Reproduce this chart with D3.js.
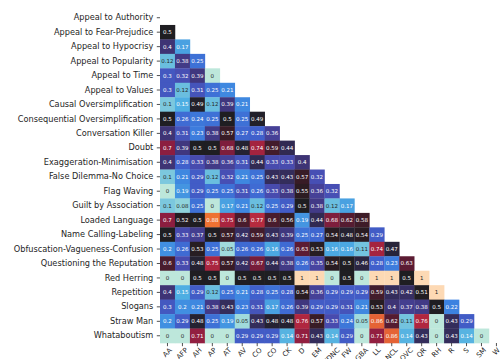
<!DOCTYPE html>
<html>
<head>
<meta charset="utf-8">
<script src="https://cdn.jsdelivr.net/npm/d3@7"></script>
<style>
  html, body { margin: 0; padding: 0; background: #fff; }
  svg { display: block; font-family: "DejaVu Sans", sans-serif; }
</style>
</head>
<body>
<svg id="chart" width="500" height="359"></svg>
<script>
// Technique names (rows) and their abbreviations (columns)
const rowLabels = [
  "Appeal to Authority", "Appeal to Fear-Prejudice", "Appeal to Hypocrisy",
  "Appeal to Popularity", "Appeal to Time", "Appeal to Values",
  "Causal Oversimplification", "Consequential Oversimplification",
  "Conversation Killer", "Doubt", "Exaggeration-Minimisation",
  "False Dilemma-No Choice", "Flag Waving", "Guilt by Association",
  "Loaded Language", "Name Calling-Labeling", "Obfuscation-Vagueness-Confusion",
  "Questioning the Reputation", "Red Herring", "Repetition", "Slogans",
  "Straw Man", "Whataboutism"
];
const colLabels = ["AA", "AFP", "AH", "AP", "AT", "AV", "CO", "CO", "CK", "D", "EM",
  "FDNC", "FW", "GBA", "LL", "NCL", "OVC", "QR", "RH", "R", "S", "SM", "W"];

// Lower-triangle co-occurrence scores, one row per technique
const values = [
  [],
  [0.5],
  [0.4, 0.17],
  [0.12, 0.38, 0.25],
  [0.3, 0.32, 0.39, 0],
  [0.3, 0.12, 0.31, 0.25, 0.21],
  [0.1, 0.15, 0.49, 0.12, 0.39, 0.21],
  [0.5, 0.26, 0.24, 0.25, 0.5, 0.25, 0.49],
  [0.4, 0.31, 0.23, 0.38, 0.57, 0.27, 0.28, 0.36],
  [0.7, 0.39, 0.5, 0.5, 0.68, 0.48, 0.74, 0.59, 0.44],
  [0.4, 0.28, 0.33, 0.38, 0.36, 0.31, 0.44, 0.33, 0.33, 0.4],
  [0.1, 0.21, 0.29, 0.12, 0.32, 0.21, 0.25, 0.43, 0.43, 0.57, 0.32],
  [0, 0.19, 0.29, 0.25, 0.25, 0.31, 0.26, 0.33, 0.38, 0.55, 0.36, 0.32],
  [0.1, 0.08, 0.25, 0, 0.17, 0.21, 0.12, 0.25, 0.29, 0.5, 0.38, 0.12, 0.17],
  [0.7, 0.52, 0.5, 0.88, 0.75, 0.6, 0.77, 0.6, 0.56, 0.19, 0.44, 0.68, 0.62, 0.58],
  [0.5, 0.33, 0.37, 0.5, 0.57, 0.42, 0.59, 0.43, 0.39, 0.25, 0.27, 0.54, 0.48, 0.54, 0.29],
  [0.2, 0.26, 0.53, 0.25, 0.05, 0.26, 0.26, 0.16, 0.26, 0.63, 0.53, 0.16, 0.16, 0.11, 0.74, 0.47],
  [0.6, 0.33, 0.48, 0.75, 0.57, 0.42, 0.67, 0.44, 0.38, 0.26, 0.35, 0.54, 0.5, 0.46, 0.28, 0.23, 0.63],
  [0, 0, 0.5, 0.5, 0, 0.5, 0.5, 0.5, 0.5, 1, 1, 0, 0.5, 0, 1, 1, 0.5, 1],
  [0.4, 0.15, 0.29, 0.12, 0.25, 0.21, 0.28, 0.25, 0.28, 0.54, 0.36, 0.29, 0.29, 0.29, 0.59, 0.43, 0.42, 0.51, 1],
  [0.3, 0.2, 0.21, 0.38, 0.43, 0.23, 0.31, 0.17, 0.26, 0.39, 0.29, 0.29, 0.31, 0.21, 0.53, 0.4, 0.37, 0.38, 0.5, 0.22],
  [0.2, 0.29, 0.48, 0.25, 0.19, 0.05, 0.43, 0.48, 0.48, 0.76, 0.57, 0.33, 0.24, 0.05, 0.86, 0.62, 0.11, 0.76, 0, 0.43, 0.29],
  [0, 0, 0.71, 0, 0, 0.29, 0.29, 0.29, 0.14, 0.71, 0.43, 0.14, 0.29, 0, 0.71, 0.86, 0.14, 0.43, 0, 0.43, 0.14, 0]
];

// Diverging "ice–fire" palette stops
const paletteStops = [0, 0.08, 0.15, 0.22, 0.28, 0.34, 0.40, 0.46, 0.50, 0.55, 0.62, 0.70, 0.76, 0.82, 0.88, 0.94, 1];
const paletteColors = ["#bde7db", "#8fd3dc", "#4eaee2", "#3c82e0", "#4060cc", "#4a47a8",
  "#3e3475", "#2a2540", "#1f1e22", "#2c1c22", "#551c31", "#8c1e40", "#b0263f",
  "#d3443a", "#ee7232", "#f6a765", "#fdd9b4"];

const svg = d3.select("#chart");
const ink = "#262626";

const x = d3.scaleBand().domain(d3.range(colLabels.length)).range([160, 503.9]);
const y = d3.scaleBand().domain(d3.range(rowLabels.length)).range([10.5, 343]);
const color = d3.scaleLinear().domain(paletteStops).range(paletteColors)
  .interpolate(d3.interpolateRgb).clamp(true);

// Flatten the triangle into cells
const cells = [];
values.forEach((row, i) => row.forEach((v, j) => cells.push({ i, j, v })));

// Pick dark or white annotation text from the cell's relative luminance
function luminance(c) {
  const rgb = d3.rgb(c);
  const lin = [rgb.r, rgb.g, rgb.b].map(u => {
    u /= 255;
    return u <= 0.03928 ? u / 12.92 : Math.pow((u + 0.055) / 1.055, 2.4);
  });
  return 0.2126 * lin[0] + 0.7152 * lin[1] + 0.0722 * lin[2];
}

const g = svg.append("g");
g.selectAll("rect.cell").data(cells).join("rect")
  .attr("class", "cell")
  .attr("x", d => x(d.j))
  .attr("y", d => y(d.i))
  .attr("width", x.bandwidth() + 0.3)
  .attr("height", y.bandwidth() + 0.3)
  .attr("fill", d => color(d.v));

g.selectAll("text.val").data(cells).join("text")
  .attr("class", "val")
  .attr("x", d => x(d.j) + x.bandwidth() / 2)
  .attr("y", d => y(d.i) + y.bandwidth() / 2)
  .attr("text-anchor", "middle")
  .attr("dominant-baseline", "central")
  .attr("font-size", 5.5)
  .attr("fill", d => luminance(color(d.v)) > 0.408 ? ink : "#ffffff")
  .text(d => d3.format("~g")(d.v));

// Row axis
const yAxis = svg.append("g")
  .attr("transform", "translate(160,0)")
  .call(d3.axisLeft(y).tickFormat(i => rowLabels[i]).tickSize(3.2).tickPadding(3.5));
yAxis.select(".domain").remove();
yAxis.selectAll(".tick line").attr("stroke", ink).attr("stroke-width", 0.8);
yAxis.selectAll(".tick text").attr("fill", ink).attr("font-size", 8.2)
  .attr("font-family", "DejaVu Sans, sans-serif");

// Column axis with labels turned 45°
const xFont = 7.0;
const xAxis = svg.append("g")
  .attr("transform", "translate(0,343)")
  .call(d3.axisBottom(x).tickFormat(i => colLabels[i]).tickSize(3.2));
xAxis.select(".domain").remove();
xAxis.selectAll(".tick line").attr("stroke", ink).attr("stroke-width", 0.8);
xAxis.selectAll(".tick text").each(function () {
  const t = d3.select(this)
    .attr("fill", ink).attr("font-size", xFont)
    .attr("font-family", "DejaVu Sans, sans-serif")
    .attr("text-anchor", "middle")
    .attr("dominant-baseline", "central")
    .attr("dy", null);
  const w = this.getComputedTextLength();
  const h = xFont * 0.72;
  const cy = 4.4 + (w + h) * Math.SQRT1_2 / 2;
  t.attr("x", 0).attr("y", cy).attr("transform", `rotate(-45,0,${cy})`);
});
</script>
</body>
</html>
